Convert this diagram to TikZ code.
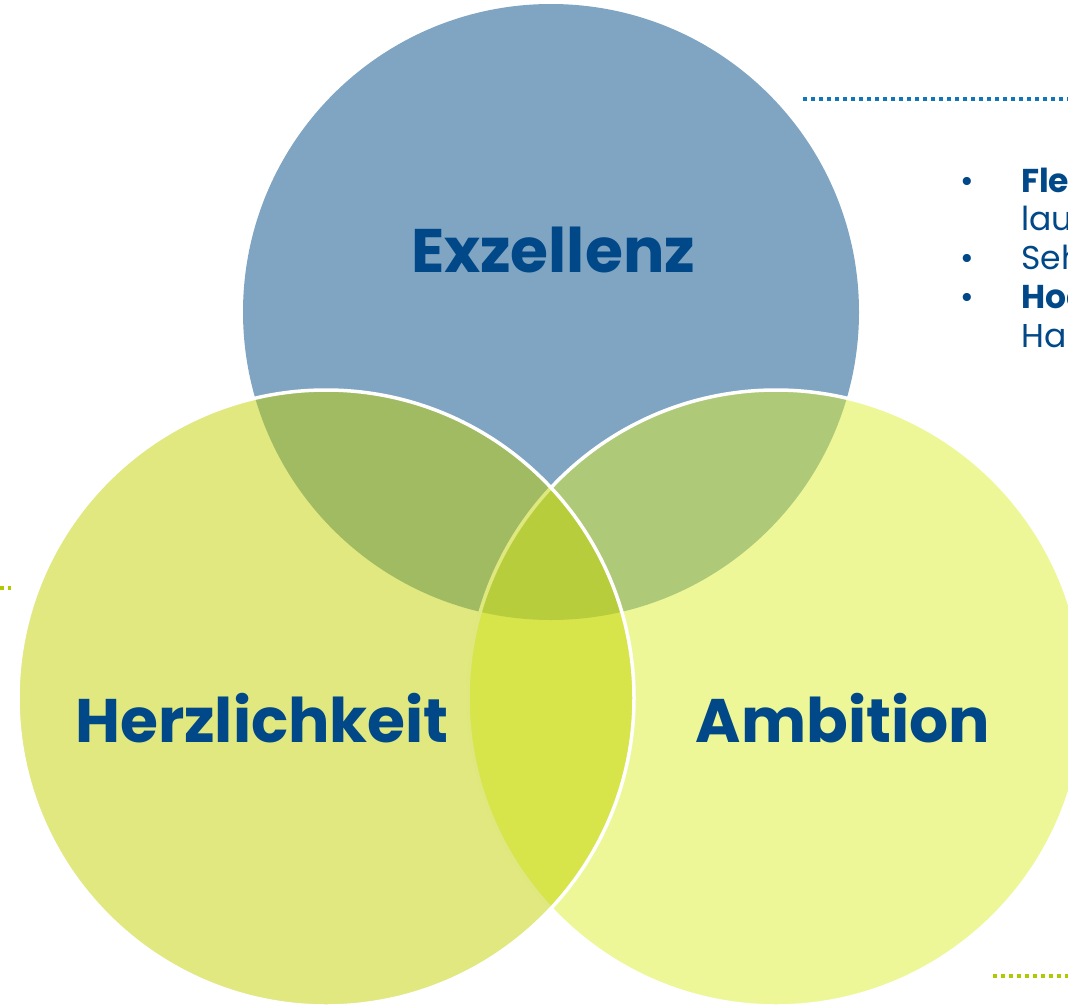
\documentclass[tikz,border=0pt]{standalone}
\usepackage{fontspec}
\setmainfont{Poppins}
\usepackage{tikz}
\definecolor{exzblue}{RGB}{128,165,195}
\definecolor{herzgreen}{RGB}{193,209,0}
\definecolor{ambyellow}{RGB}{221,239,47}
\definecolor{titleblue}{RGB}{0,72,136}
\definecolor{dotblue}{RGB}{20,118,186}
\definecolor{dotgreen}{RGB}{178,200,0}
\tikzset{
	ring/.style={draw=white, line width=3.5pt, fill opacity=0.5},
	title/.style={text=titleblue, font=\fontsize{61.5}{61.5}\selectfont\bfseries, anchor=base},
	dotline/.style={line width=3.5pt, dash pattern=on 3.5pt off 4.5pt},
	item/.style={text=titleblue, font=\fontsize{33}{33}\selectfont, inner sep=0pt}
}

\begin{document}
\begin{tikzpicture}[x=1pt, y=-1pt]
		\useasboundingbox (0,0) rectangle (1068,1007);
		\clip (0,0) rectangle (1068,1007);
		\coordinate (exz) at (551,312);
		\coordinate (herz) at (326,698);
		\coordinate (amb) at (776,698);
		\fill[exzblue] (exz) circle[radius=308pt];
		\draw[ring, fill=ambyellow] (amb) circle[radius=308pt];
		\draw[ring, fill=herzgreen] (herz) circle[radius=308pt];
		\node[title] (exztext) at (553,272) {Exzellenz};
		\node[title] (herztext) at (262,742) {Herzlichkeit};
		\node[title] (ambtext) at (843,742) {Ambition};
		% list on the right, cut by the page edge
		\node[item, anchor=base] (dot1) at (967,192) {•};
		\node[item, anchor=base] (dot2) at (967,269) {•};
		\node[item, anchor=base] (dot3) at (967,308) {•};
		\node[item, anchor=base west] (line1) at (1021,192) {\textbf{Fle}};
		\node[item, anchor=base west] (line2) at (1021,230) {lau};
		\node[item, anchor=base west] (line3) at (1021,269) {Seh};
		\node[item, anchor=base west] (line4) at (1021,308) {\textbf{Hoc}};
		\node[item, anchor=base west] (line5) at (1021,347) {Hal};
		% dotted rules
		\coordinate (topa) at (803,99); \coordinate (topb) at (1068,99);
		\coordinate (lefta) at (0,588); \coordinate (leftb) at (11,588);
		\coordinate (bota) at (993,976); \coordinate (botb) at (1068,976);
		\draw[dotline, dotblue] (topa)--(topb);
		\draw[dotline, dotgreen] (lefta)--(leftb);
		\draw[dotline, dotgreen] (bota)--(botb);
	\end{tikzpicture}
\end{document}
